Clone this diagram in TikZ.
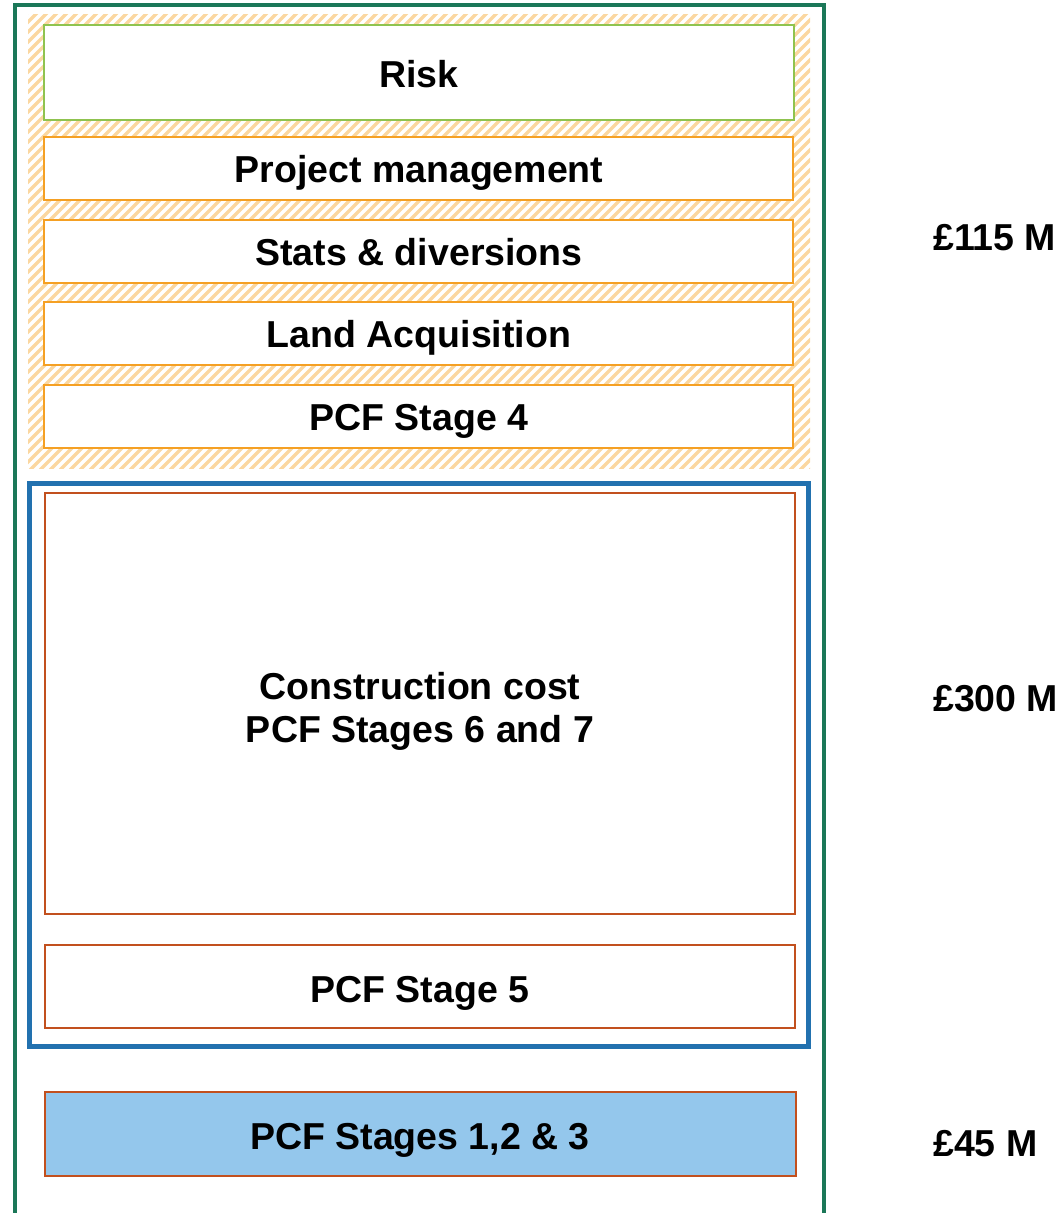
\documentclass[tikz,border=0pt]{standalone}
\usepackage{fontspec}
\setmainfont{Liberation Sans}
\definecolor{frameg}{HTML}{1B7758}
\definecolor{hatchc}{HTML}{FBD7A0}
\definecolor{riskg}{HTML}{8FC34F}
\definecolor{orng}{HTML}{F5A023}
\definecolor{blu}{HTML}{2271AF}
\definecolor{redo}{HTML}{C2501E}
\definecolor{lblue}{HTML}{94C7EC}
\begin{document}
\begin{tikzpicture}[x=1pt,y=-1pt,
  txt/.style={font=\fontsize{37.5}{43}\selectfont\bfseries, anchor=base, inner sep=0pt},
  riskbox/.style={draw=riskg, line width=2pt, fill=white},
  orbox/.style={draw=orng, line width=2pt, fill=white},
  redbox/.style={draw=redo, line width=2pt, fill=white},
  costlbl/.style={font=\fontsize{37.5}{43}\selectfont\bfseries, anchor=base west, inner sep=0pt}]
\useasboundingbox (0,0) rectangle (1064,1213);
% hatched area
\begin{scope}
  \clip (28,14) rectangle (810,468);
  \foreach \i in {-470,-460,...,820}
    \draw[hatchc, line width=3.5pt] (\i,470) -- ({\i+460},10);
\end{scope}
% outer green frame (open at bottom)
\draw[frameg, line width=3.5pt] (15,1215) -- (15,5) -- (824,5) -- (824,1215);
% top boxes
\draw[riskbox] (44,25) rectangle (794,120);
\node[txt] (risk) at (419,87) {Risk};
\draw[orbox] (44,137) rectangle (793,200);
\node[txt] (pm) at (419,182) {Project management};
\draw[orbox] (44,220) rectangle (793,283);
\node[txt] (stats) at (419,265) {Stats \& diversions};
\draw[orbox] (44,302) rectangle (793,365);
\node[txt] (land) at (419,347) {Land Acquisition};
\draw[orbox] (44,385) rectangle (793,448);
\node[txt] (pcf4) at (419,430) {PCF Stage 4};
% blue frame
\draw[blu, line width=5pt] (29.5,483) rectangle (808.5,1046.5);
\draw[redbox] (45,493) rectangle (795,914);
\node[txt] (constr) at (420,699) {Construction cost};
\node[txt] (constr2) at (420,742) {PCF Stages 6 and 7};
\draw[redbox] (45,945) rectangle (795,1028);
\node[txt] (pcf5) at (420,1002) {PCF Stage 5};
% bottom box
\draw[redbox, fill=lblue] (45,1092) rectangle (796,1176);
\node[txt] (pcf123) at (420,1149) {PCF Stages 1,2 \& 3};
% cost labels
\node[costlbl] (c115) at (933,250) {£115 M};
\node[costlbl] (c300) at (933,711) {£300 M};
\node[costlbl] (c45) at (933,1156) {£45 M};
\end{tikzpicture}
\end{document}
